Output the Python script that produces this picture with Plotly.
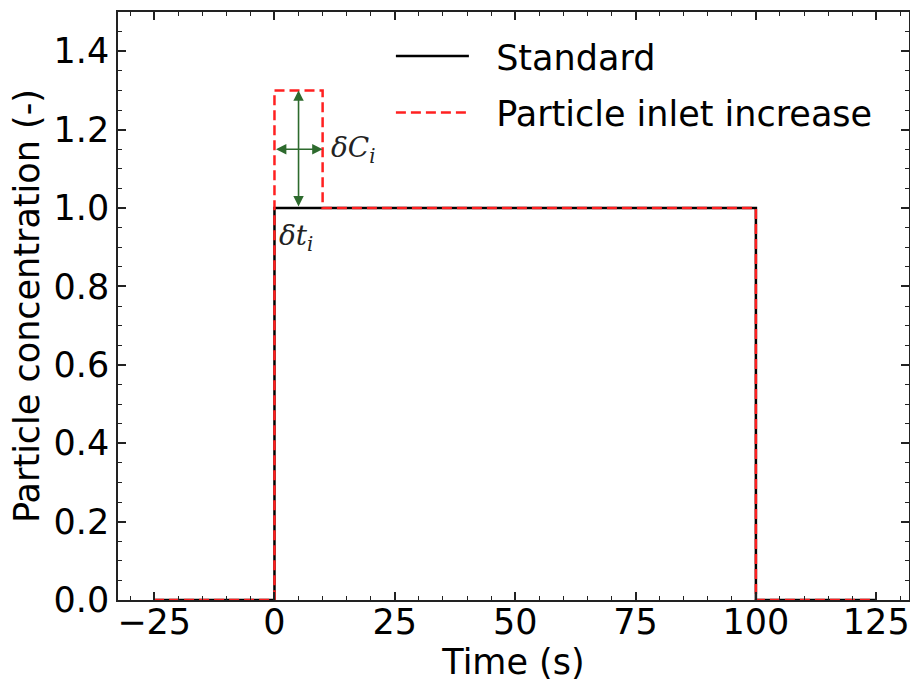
import plotly.graph_objects as go

# Data
std_t = [-25, 0, 0, 100, 100, 125]
std_c = [0, 0, 1.0, 1.0, 0, 0]
inc_t = [-25, 0, 0, 10, 10, 100, 100, 125]
inc_c = [0, 0, 1.3, 1.3, 1.0, 1.0, 0, 0]
x_ticks = [-25, 0, 25, 50, 75, 100, 125]
y_ticks = [0.0, 0.2, 0.4, 0.6, 0.8, 1.0, 1.2, 1.4]

FONT = "DejaVu Sans"
FS = 35
NB = "\u00a0\u00a0"
fig = go.Figure()
fig.add_trace(go.Scatter(x=std_t, y=std_c, mode="lines", name=NB + "Standard", legendgroup="a",
                         line=dict(color="black", width=2.5)))
fig.add_trace(go.Scatter(x=inc_t, y=inc_c, mode="lines", name=NB + "Particle inlet increase",
                         legendgroup="b",
                         line=dict(color="#ff2020", width=2.5, dash="10px,5px")))

green = "#2d6a2d"
fig.add_annotation(x=5, y=1.3, ax=5, ay=1.0, xref="x", yref="y", axref="x", ayref="y",
                   showarrow=True, arrowhead=2, arrowside="end+start", arrowsize=1.3,
                   arrowwidth=1.6, arrowcolor=green, text="")
fig.add_annotation(x=10, y=1.15, ax=0, ay=1.15, xref="x", yref="y", axref="x", ayref="y",
                   showarrow=True, arrowhead=2, arrowside="end+start", arrowsize=1.3,
                   arrowwidth=1.6, arrowcolor=green, text="")
fig.add_annotation(x=11.3, y=1.148, xref="x", yref="y", showarrow=False, xanchor="left",
                   text="<i>δC</i><sub><i>i</i></sub>",
                   font=dict(family="DejaVu Serif", size=28, color="#222"))
fig.add_annotation(x=0.6, y=0.925, xref="x", yref="y", showarrow=False, xanchor="left",
                   text="<i>δt</i><sub><i>i</i></sub>",
                   font=dict(family="DejaVu Serif", size=28, color="#222"))

axis_common = dict(showgrid=False, zeroline=False, showline=True, linecolor="#222",
                   linewidth=1.5, mirror="allticks", ticks="inside", ticklen=8,
                   tickwidth=1.5, tickcolor="#222",
                   tickfont=dict(family=FONT, size=FS, color="black"))
fig.update_xaxes(range=[-32.5, 131.8], tickvals=x_ticks,
                 ticktext=[("−" + str(abs(v))) if v < 0 else str(v) for v in x_ticks],
                 ticklabelstandoff=-10,
                 minor=dict(ticks="inside", dtick=5, tick0=0, ticklen=4, tickwidth=1.2,
                            tickcolor="#222"),
                 title=dict(text="Time (s)", font=dict(family=FONT, size=FS, color="black"),
                            standoff=2),
                 **axis_common)
fig.update_yaxes(range=[0, 1.5], tickvals=y_ticks,
                 ticktext=[f"{v:.1f}" for v in y_ticks],
                 minor=dict(ticks="inside", dtick=0.05, tick0=0, ticklen=4, tickwidth=1.2,
                            tickcolor="#222"),
                 title=dict(text="Particle concentration (-)",
                            font=dict(family=FONT, size=FS, color="black"), standoff=3),
                 **axis_common)

fig.update_layout(
    width=910, height=684,
    margin=dict(l=118, r=1, t=12, b=84, autoexpand=False),
    plot_bgcolor="white", paper_bgcolor="white",
    showlegend=True,
    legend=dict(x=0.345, y=0.975, xanchor="left", yanchor="top", tracegroupgap=8,
                bgcolor="rgba(0,0,0,0)", font=dict(family=FONT, size=FS, color="black"),
                itemwidth=73),
)
fig.write_html("out.html", config={"displayModeBar": False},
               post_script="document.body.style.margin='0';document.body.style.padding='0';")
